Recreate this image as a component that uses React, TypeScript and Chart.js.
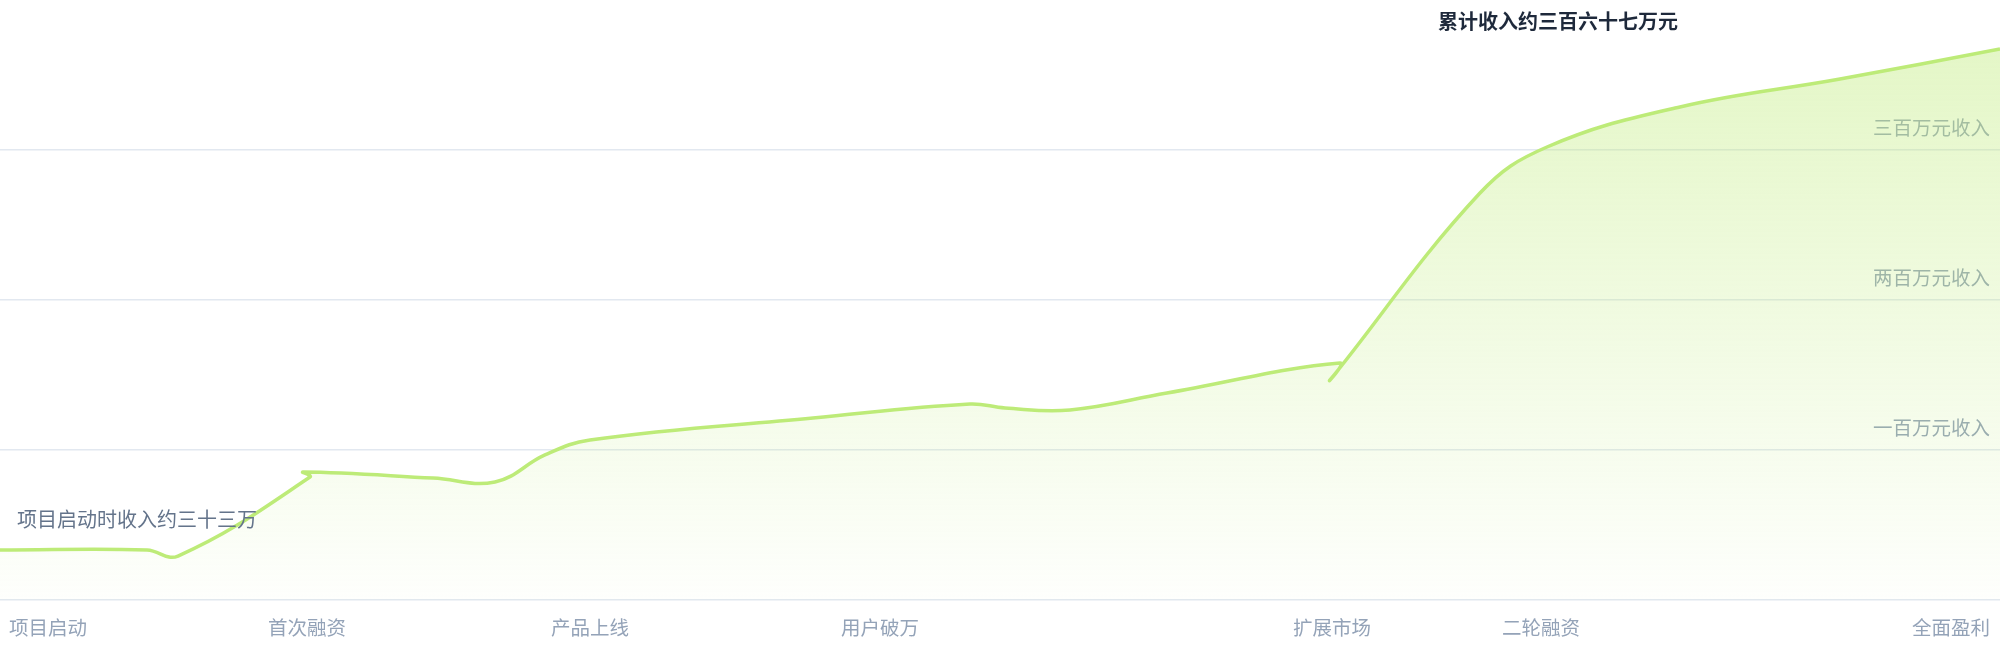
import { useEffect, useRef } from "react"
import { Chart, registerables } from "chart.js"

Chart.register(...registerables)

// x = day since launch, y = cumulative revenue (million CNY)
const revenueDays = [0, 14.7, 17.8, 31.0, 30.3, 43.3, 49.5, 54.5, 59.0, 81.3, 97.0, 100.5, 107.0, 116.7, 134.0, 133.0, 148.0, 154.7, 168.0, 184.0, 200.0]
const revenueValues = [0.333, 0.333, 0.293, 0.82, 0.853, 0.813, 0.787, 0.967, 1.067, 1.213, 1.307, 1.28, 1.267, 1.38, 1.58, 1.467, 2.713, 3.02, 3.287, 3.473, 3.673]

const milestoneDays = [4.8, 30.7, 59.0, 88.0, 133.2, 154.1, 195.1]
const milestoneLabels = ["项目启动", "首次融资", "产品上线", "用户破万", "扩展市场", "二轮融资", "全面盈利"]

const yTickLabels = ["", "一百万元收入", "两百万元收入", "三百万元收入", ""]

const startNote = "项目启动时收入约三十三万"
const endNote = "累计收入约三百六十七万元"

const FONT = "'Noto Sans CJK SC', 'Noto Sans', sans-serif"

const notesPlugin = {
  id: "notes",
  afterDatasetsDraw(chart: Chart) {
    const { ctx, chartArea } = chart
    const meta = chart.getDatasetMeta(0)
    const first = meta.data[0]
    if (!first) return
    ctx.save()
    ctx.textBaseline = "middle"
    ctx.font = `20px ${FONT}`
    ctx.fillStyle = "#64748b"
    ctx.textAlign = "left"
    ctx.fillText(startNote, chartArea.left + 17, first.y - 31)
    ctx.font = `bold 20px ${FONT}`
    ctx.fillStyle = "#1e293b"
    ctx.textAlign = "right"
    ctx.fillText(endNote, chartArea.right - 322, chartArea.top + 21)
    ctx.restore()
  },
}

function RevenueChart() {
  const chartRef = useRef<HTMLCanvasElement>(null)
  const chartInstance = useRef<Chart | null>(null)

  useEffect(() => {
    if (!chartRef.current) return
    document.body.style.margin = "0"

    if (chartInstance.current) {
      chartInstance.current.destroy()
    }

    const ctx = chartRef.current.getContext("2d")
    if (!ctx) return

    const points = revenueDays.map((d, i) => ({ x: d, y: revenueValues[i] }))

    chartInstance.current = new Chart(ctx, {
      type: "line",
      data: {
        datasets: [
          {
            data: points,
            borderColor: "#bdeb78",
            borderWidth: 3.5,
            tension: 0.4,
            pointRadius: 0,
            pointHoverRadius: 0,
            fill: "origin",
            backgroundColor: (c: any) => {
              const area = c.chart.chartArea
              if (!area) return "rgba(190,235,120,0.2)"
              const g = c.chart.ctx.createLinearGradient(0, area.top, 0, area.bottom)
              g.addColorStop(0, "rgba(190,235,120,0.45)")
              g.addColorStop(1, "rgba(190,235,120,0.02)")
              return g
            },
          },
        ],
      },
      options: {
        responsive: true,
        maintainAspectRatio: false,
        animation: false,
        layout: { padding: { top: 0, left: 0, right: 0, bottom: 20 } },
        plugins: {
          legend: { display: false },
          tooltip: { enabled: false },
        },
        scales: {
          x: {
            type: "linear",
            min: 0,
            max: 200,
            grid: { display: false, drawTicks: false },
            border: { display: false },
            afterBuildTicks: (scale: any) => {
              scale.ticks = milestoneDays.map((v) => ({ value: v }))
            },
            afterFit: (scale: any) => {
              scale.height = 40
              scale.paddingLeft = 0
              scale.paddingRight = 0
            },
            ticks: {
              autoSkip: false,
              maxRotation: 0,
              padding: 16,
              color: "#94a3b8",
              font: { family: FONT, size: 19.5 },
              callback: (_v: any, i: number) => milestoneLabels[i],
            },
          },
          y: {
            position: "right",
            min: 0,
            max: 4,
            grid: {
              drawTicks: false,
              color: (c: any) => (c.tick && c.tick.value === 4 ? "rgba(0,0,0,0)" : "#e2e8f0"),
              lineWidth: 1.5,
            },
            border: { display: false },
            afterFit: (scale: any) => {
              scale.width = 0
              scale.paddingTop = 0
              scale.paddingBottom = 0
            },
            ticks: {
              stepSize: 1,
              mirror: true,
              padding: -10,
              labelOffset: -22,
              color: "#94a3b8",
              font: { family: FONT, size: 19.5 },
              callback: (v: any) => yTickLabels[v] ?? "",
            },
          },
        },
      },
      plugins: [notesPlugin],
    })

    return () => {
      if (chartInstance.current) {
        chartInstance.current.destroy()
        chartInstance.current = null
      }
    }
  }, [])

  return (
    <div style={{ position: "relative", width: 2000, height: 660 }}>
      <canvas ref={chartRef} />
    </div>
  )
}

export default function App() {
  return <RevenueChart />
}
